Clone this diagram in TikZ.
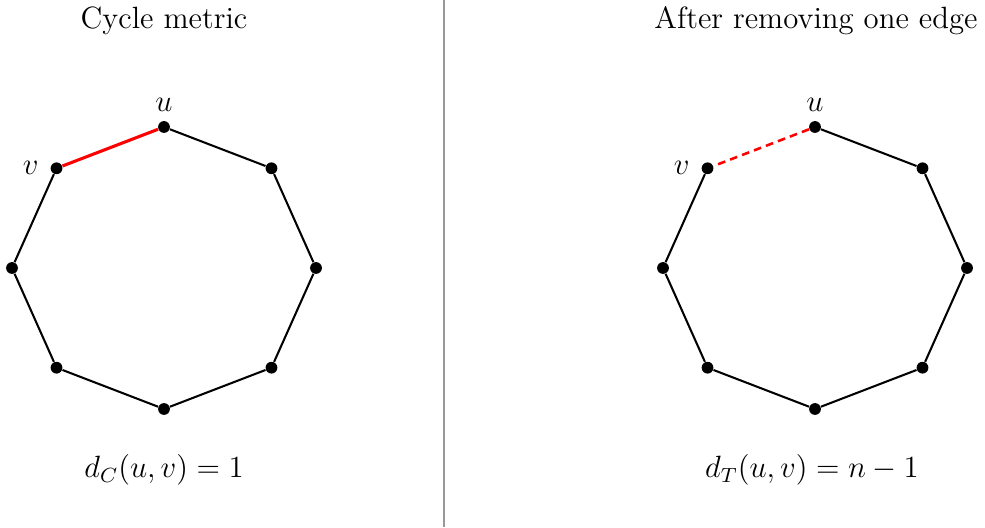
\documentclass[tikz,border=0pt]{standalone}
\usetikzlibrary{positioning}
\begin{document}
\begin{tikzpicture}[
    x=0.39pt, y=0.39pt,
    font=\large,
    vertex/.style={circle, fill=black, inner sep=0pt, minimum size=4.6pt},
    edge/.style={draw=black, line width=0.8pt},
    keptedge/.style={draw=red, line width=1.2pt},
    cutedge/.style={draw=red, line width=1pt, dash pattern=on 3pt off 2pt},
    divider/.style={draw=black!40, line width=0.5pt}
]
\useasboundingbox (0,0) rectangle (985,527);

% the two octagons
\foreach \i in {1,...,8} {
    \node[vertex] (L\i) at ({164+152*cos(45*\i+45)}, {259+141*sin(45*\i+45)}) {};
    \node[vertex] (R\i) at ({815+152*cos(45*\i+45)}, {259+141*sin(45*\i+45)}) {};
}
\foreach \i [evaluate=\i as \j using {int(mod(\i,8)+1)}] in {2,...,8} {
    \draw[edge] (L\i) -- (L\j);
    \draw[edge] (R\i) -- (R\j);
}
\draw[keptedge] (L1) -- (L2);
\draw[cutedge] (R1) -- (R2);

% vertex labels
\node[above=0pt of L1] (uL) {$u$};
\node[left=1pt of L2] (vL) {$v$};
\node[above=0pt of R1] (uR) {$u$};
\node[left=1pt of R2] (vR) {$v$};

% titles and distances
\node[anchor=base] (ltitle) at (164,498) {Cycle metric};
\node[anchor=base] (rtitle) at (816,498) {After removing one edge};
\node[anchor=base] (ldist) at (164,49) {$d_C(u,v) = 1$};
\node[anchor=base] (rdist) at (812,49) {$d_T(u,v) = n - 1$};

\draw[divider] (444,0) -- (444,527);
\end{tikzpicture}
\end{document}
